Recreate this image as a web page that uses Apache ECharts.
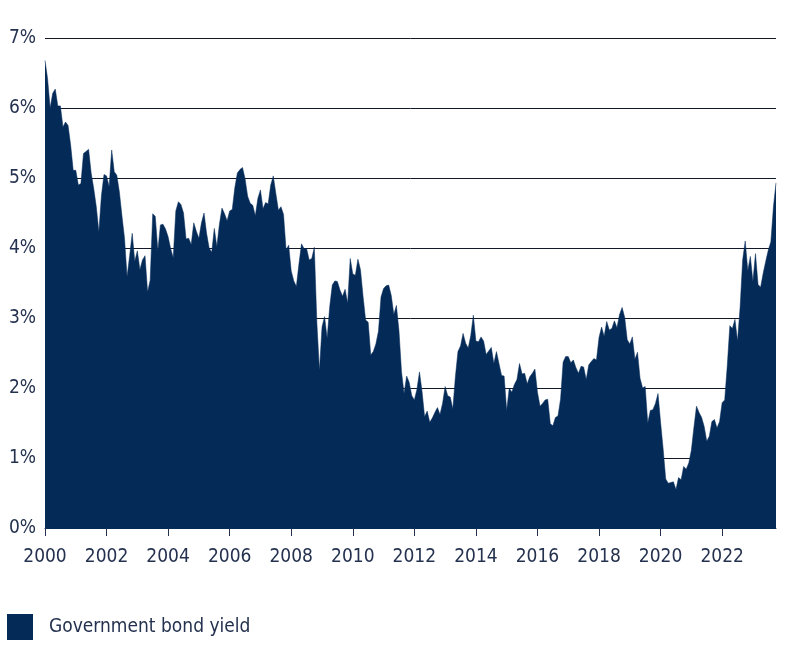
<!DOCTYPE html>
<html>
<head>
<meta charset="utf-8">
<script src="https://cdn.jsdelivr.net/npm/echarts@6/dist/echarts.min.js"></script>
<style>html,body{margin:0;padding:0;background:#fff}#c{width:789px;height:652px}</style>
</head>
<body>
<div id="c"></div>
<script>
const startYear = 2000;
const y2000 = [6.68,6.42,6.00,6.21,6.27,6.03,6.03,5.73,5.80,5.75,5.47,5.11];
const y2001 = [5.11,4.90,4.92,5.35,5.38,5.41,5.07,4.85,4.59,4.23,4.75,5.05];
const y2002 = [5.03,4.88,5.40,5.09,5.04,4.80,4.46,4.14,3.59,3.89,4.21,3.81];
const y2003 = [3.96,3.69,3.83,3.89,3.37,3.54,4.49,4.45,3.96,4.33,4.34,4.27];
const y2004 = [4.16,3.99,3.86,4.53,4.66,4.62,4.50,4.13,4.14,4.05,4.36,4.24];
const y2005 = [4.14,4.36,4.50,4.21,4.00,3.94,4.28,4.02,4.34,4.57,4.49,4.39];
const y2006 = [4.53,4.55,4.86,5.07,5.12,5.15,4.99,4.74,4.64,4.61,4.46,4.71];
const y2007 = [4.83,4.56,4.65,4.63,4.90,5.03,4.78,4.54,4.59,4.48,3.97,4.04];
const y2008 = [3.67,3.53,3.45,3.77,4.06,3.99,3.99,3.83,3.85,4.01,2.93,2.25];
const y2009 = [2.87,3.02,2.71,3.16,3.47,3.53,3.52,3.40,3.31,3.41,3.21,3.85];
const y2010 = [3.63,3.61,3.84,3.69,3.31,2.97,2.94,2.47,2.52,2.63,2.81,3.30];
const y2011 = [3.42,3.46,3.47,3.32,3.05,3.18,2.82,2.23,1.92,2.17,2.08,1.89];
const y2012 = [1.83,1.98,2.23,1.95,1.59,1.67,1.51,1.57,1.65,1.72,1.62,1.78];
const y2013 = [2.02,1.89,1.87,1.70,2.16,2.52,2.60,2.78,2.64,2.57,2.75,3.04];
const y2014 = [2.67,2.66,2.73,2.67,2.48,2.53,2.58,2.35,2.52,2.35,2.18,2.17];
const y2015 = [1.68,2.00,1.94,2.05,2.12,2.35,2.20,2.21,2.06,2.16,2.21,2.27];
const y2016 = [1.94,1.74,1.78,1.83,1.84,1.49,1.46,1.58,1.60,1.84,2.37,2.45];
const y2017 = [2.45,2.36,2.40,2.29,2.21,2.31,2.30,2.12,2.33,2.38,2.42,2.40];
const y2018 = [2.72,2.87,2.74,2.95,2.83,2.85,2.96,2.86,3.05,3.15,3.01,2.69];
const y2019 = [2.63,2.73,2.41,2.51,2.14,2.00,2.02,1.50,1.68,1.69,1.78,1.92];
const y2020 = [1.51,1.13,0.70,0.64,0.65,0.66,0.55,0.72,0.69,0.88,0.84,0.93];
const y2021 = [1.11,1.44,1.74,1.65,1.58,1.45,1.24,1.31,1.52,1.55,1.43,1.52];
const y2022 = [1.79,1.83,2.32,2.89,2.85,2.98,2.67,3.15,3.83,4.10,3.68,3.88];
const y2023 = [3.52,3.92,3.48,3.44,3.64,3.81,3.97,4.09,4.59,4.93];
const yTicks = [0,1,2,3,4,5,6,7];
const seriesName = 'Government bond yield';

const yearly = [y2000,y2001,y2002,y2003,y2004,y2005,y2006,y2007,y2008,y2009,y2010,y2011,
  y2012,y2013,y2014,y2015,y2016,y2017,y2018,y2019,y2020,y2021,y2022,y2023];
const categories = [];
const values = [];
yearly.forEach((arr, i) => {
  arr.forEach((v, m) => {
    categories.push((startYear + i) + '-' + String(m + 1).padStart(2, '0'));
    values.push(v);
  });
});

const FONT = "'Liberation Sans Narrow', 'DejaVu Sans Condensed', 'Roboto', sans-serif";
const TXT = '#24324f';
const NAVY = '#042a58';
const everyTwoYears = (idx, val) => {
  const s = typeof val === 'string' ? val : categories[idx];
  return s.endsWith('-01') && (parseInt(s.slice(0, 4)) - startYear) % 2 === 0;
};

const chart = echarts.init(document.getElementById('c'));
chart.setOption({
  animation: false,
  backgroundColor: '#fff',
  grid: { left: 45, right: 13, top: 38, bottom: 124, containLabel: false },
  legend: {
    left: 7, top: 614, padding: 0,
    itemWidth: 26, itemHeight: 26,
    icon: 'rect',
    data: [{ name: seriesName, icon: 'rect' }],
    textStyle: { fontFamily: FONT, fontSize: 19, color: TXT, padding: [0, 0, 0, 11] }
  },
  xAxis: {
    type: 'category',
    data: categories,
    boundaryGap: false,
    axisLine: { show: true, lineStyle: { color: NAVY, width: 1 } },
    axisTick: { show: true, length: 8, interval: (i, v) => everyTwoYears(i, v), lineStyle: { color: TXT, width: 1 } },
    axisLabel: {
      interval: (i, v) => everyTwoYears(i, v),
      formatter: v => v.slice(0, 4),
      fontFamily: FONT, fontSize: 19, color: TXT, margin: 20
    },
    splitLine: { show: false }
  },
  yAxis: {
    type: 'value',
    min: yTicks[0], max: yTicks[yTicks.length - 1], interval: 1,
    axisLine: { show: false },
    axisTick: { show: false },
    axisLabel: { formatter: '{value}%', fontFamily: FONT, fontSize: 19, color: TXT, margin: 9 },
    splitLine: { show: true, lineStyle: { color: '#111827', width: 1 } }
  },
  series: [{
    name: seriesName,
    type: 'line',
    data: values,
    symbol: 'none',
    showSymbol: false,
    lineStyle: { width: 0.5, color: NAVY },
    itemStyle: { color: NAVY },
    areaStyle: { color: NAVY, opacity: 1 },
    z: 3
  }]
});
</script>
</body>
</html>
